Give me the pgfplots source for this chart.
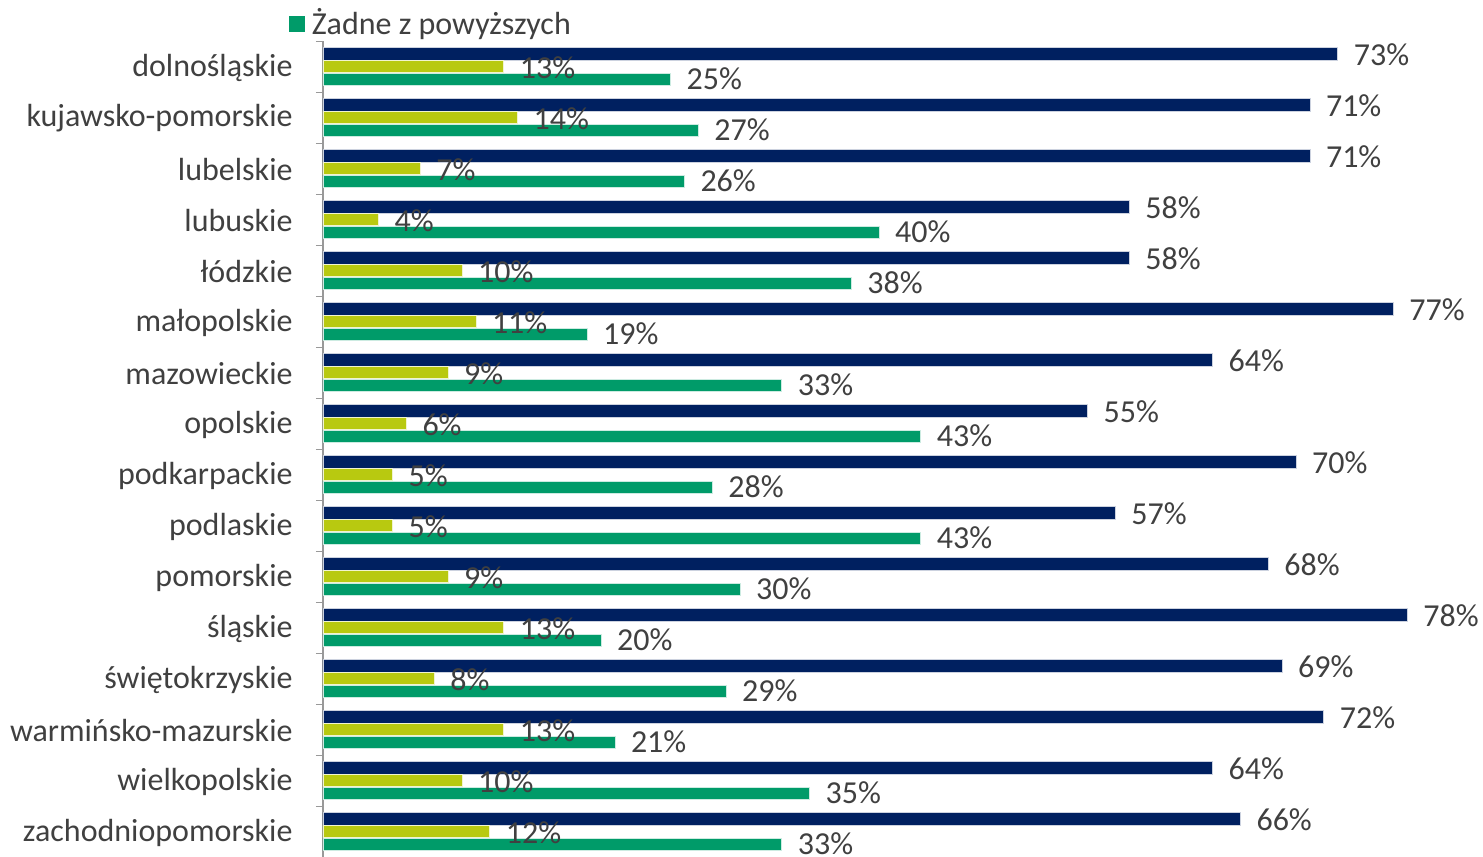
\documentclass[border=0pt]{standalone}
\usepackage{pgfplots}
\pgfplotsset{compat=1.18}
\usepackage{pgfplotstable}
\usepackage{fontspec}
\setmainfont{Carlito}
\definecolor{navy}{RGB}{0,32,96}
\definecolor{lime}{RGB}{184,201,16}
\definecolor{mygreen}{RGB}{0,155,105}
\definecolor{txt}{RGB}{64,64,64}
\pgfplotstableread{
idx a b c
0 73 13 25
1 71 14 27
2 71 7 26
3 58 4 40
4 58 10 38
5 77 11 19
6 64 9 33
7 55 6 43
8 70 5 28
9 57 5 43
10 68 9 30
11 78 13 20
12 69 8 29
13 72 13 21
14 64 10 35
15 66 12 33
}\datatable
\begin{document}
\begin{tikzpicture}
\begin{axis}[
  scale only axis,
  width=348pt, height=244.8pt,
  xmin=0, xmax=83.45,
  ymin=-0.5, ymax=15.5,
  y dir=reverse,
  hide x axis,
  axis y line*=left,
  y axis line style={draw=gray!80, -},
  ytick={0,...,15},
  yticklabels={dolnośląskie,kujawsko-pomorskie,lubelskie,lubuskie,łódzkie,małopolskie,mazowieckie,opolskie,podkarpackie,podlaskie,pomorskie,śląskie,świętokrzyskie,warmińsko-mazurskie,wielkopolskie,zachodniopomorskie},
  major tick length=0pt,
  minor ytick={-0.5,0.5,...,15.5},
  minor tick length=2.1pt,
  tick align=outside,
  minor tick style={draw=gray!80},
  yticklabel style={font=\fontsize{9.6}{12}\selectfont, text=txt, xshift=-5.6pt, yshift=-0.3pt},
  clip=false,
  nodes near coords={\pgfplotspointmeta\%},
  point meta=explicit symbolic,
  nodes near coords style={font=\fontsize{9.6}{12}\selectfont, text=txt, anchor=west, xshift=1.4pt},
  legend style={at={(rel axis cs:-0.030,1.0208)}, anchor=west, draw=none, fill=none, inner sep=0pt, font=\fontsize{9.6}{12}\selectfont, text=txt},
  legend cell align=left,
]
\addlegendimage{legend image code/.code={\fill[mygreen] (0pt,-2.2pt) rectangle (4.5pt,2.3pt);}}
\addlegendentry{Żadne z powyższych}
\addplot[xbar, bar width=0.245, bar shift=-0.25, fill=navy, draw=white!80!navy, line width=0.2pt, nodes near coords style={yshift=3.4pt}] table[x=a, y=idx, meta=a]{\datatable};
\addplot[xbar, bar width=0.245, bar shift=0, fill=lime, draw=white!80!lime, line width=0.2pt, nodes near coords style={yshift=-0.3pt}] table[x=b, y=idx, meta=b]{\datatable};
\addplot[xbar, bar width=0.245, bar shift=0.25, fill=mygreen, draw=white!80!mygreen, line width=0.2pt, nodes near coords style={yshift=-3.6pt}] table[x=c, y=idx, meta=c]{\datatable};
\coordinate (o) at (rel axis cs:0,0);
\end{axis}
\pgfresetboundingbox
\useasboundingbox ([xshift=-96.9pt]o) rectangle ([xshift=348pt, yshift=257.1pt]o);
\end{tikzpicture}
\end{document}
